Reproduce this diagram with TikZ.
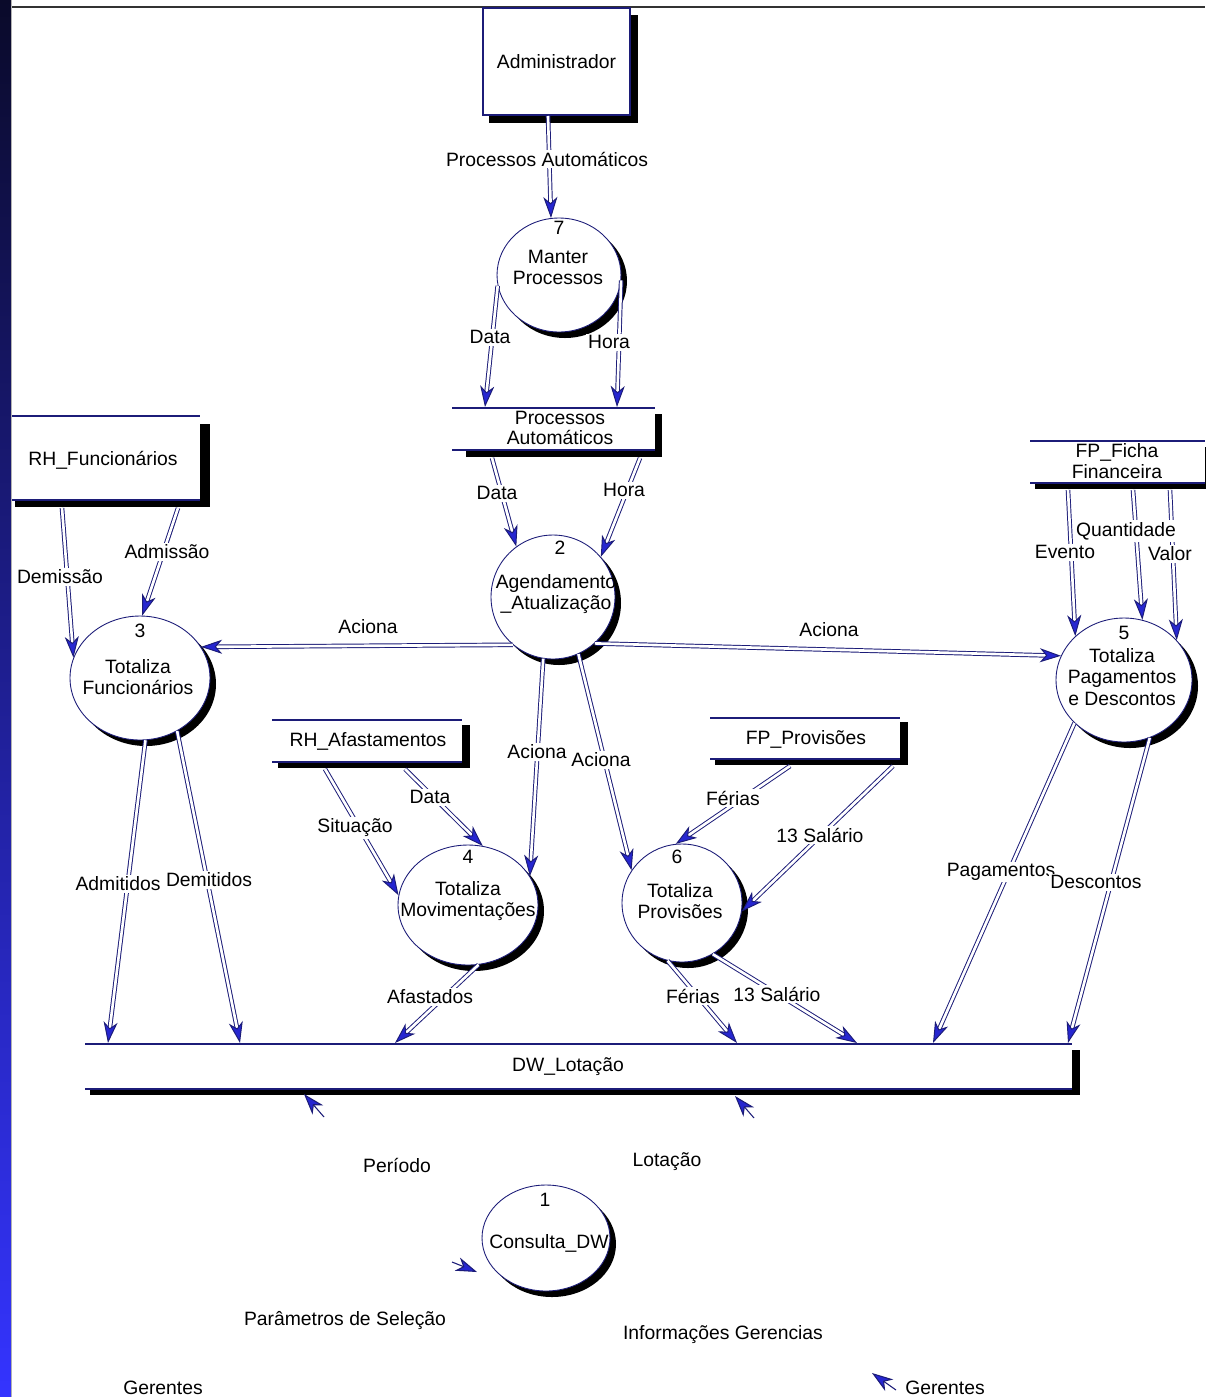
\documentclass[tikz,border=0pt]{standalone}
\usepackage{fontspec}
\setmainfont{Liberation Sans}
\usetikzlibrary{arrows.meta,calc,shapes.geometric}
\definecolor{navy}{HTML}{1C1C78}
\definecolor{arrblue}{HTML}{2626D0}
\definecolor{bartop}{HTML}{0A0A2A}
\definecolor{barbot}{HTML}{3434FF}
\begin{document}
\begin{tikzpicture}[x=0.02cm,y=-0.02cm,
  every node/.style={font=\fontsize{11}{12}\selectfont},
  lbl/.style={fill=white,inner sep=1pt},
  txt/.style={inner sep=0pt,align=center},
  flow/.style={draw=navy,line width=0.55pt,double=white,double distance=1.5pt,
    -{Stealth[length=12pt,width=8pt,inset=3.5pt,fill=arrblue,color=navy]}},
  tiponly/.style={draw=navy,line width=0.6pt,
    -{Stealth[length=12pt,width=8pt,inset=3.5pt,fill=arrblue,color=navy]}},
  proc/.style={ellipse,draw=navy,fill=white,line width=0.5pt,inner sep=0pt},
  shadowfill/.style={fill=black},
  storeline/.style={draw=navy,line width=0.7pt}
]
\useasboundingbox (0,0) rectangle (1205,1397);
\fill[white] (0,0) rectangle (1205,1397);
\shade[top color=bartop,bottom color=barbot] (0,0) rectangle (11,1397);
\draw[gray!60,line width=0.8pt] (11.5,0) -- (11.5,1397);
\draw[black!80,line width=1pt] (12,7) -- (1205,7);

% ---------- external entity ----------
\fill[shadowfill] (489,15) rectangle (638,123);
\node[draw=navy,fill=white,line width=0.7pt,minimum width=2.94cm,minimum height=2.14cm,inner sep=0pt] (adm) at (556.5,61.5) {Administrador};

% ---------- data stores ----------
% RH_Funcionarios
\fill[shadowfill] (15,424) rectangle (210,507);
\fill[white] (12,416) rectangle (200,500);
\draw[storeline] (12,416) -- (200,416);
\draw[storeline] (12,500) -- (200,500);
\node[txt] (rhf) at (103,460) {RH\_Funcionários};
% Processos Automaticos
\fill[shadowfill] (466,414) rectangle (662,457);
\fill[white] (452,408) rectangle (655,450);
\draw[storeline] (452,408) -- (655,408);
\draw[storeline] (452,450) -- (655,450);
\node[txt,font=\fontsize{11}{11.5}\selectfont] (pa) at (560,428) {Processos\\Automáticos};
% FP_Ficha Financeira
\fill[shadowfill] (1035,447) rectangle (1212,489);
\fill[white] (1030,441) rectangle (1205,483);
\draw[storeline] (1030,441) -- (1205,441);
\draw[storeline] (1030,483) -- (1205,483);
\node[txt,font=\fontsize{11}{11.5}\selectfont] (fpf) at (1117,461) {FP\_Ficha\\Financeira};
% RH_Afastamentos
\fill[shadowfill] (278,725) rectangle (470,768);
\fill[white] (272,720) rectangle (462,762);
\draw[storeline] (272,720) -- (462,720);
\draw[storeline] (272,762) -- (462,762);
\node[txt] (rha) at (368,741) {RH\_Afastamentos};
% FP_Provisoes
\fill[shadowfill] (715,722) rectangle (908,765);
\fill[white] (710,718) rectangle (900,759);
\draw[storeline] (710,718) -- (900,718);
\draw[storeline] (710,759) -- (900,759);
\node[txt] (fpp) at (806,739) {FP\_Provisões};
% DW_Lotacao
\fill[shadowfill] (90,1050) rectangle (1080,1095);
\fill[white] (85,1044) rectangle (1072,1089);
\draw[storeline] (85,1044) -- (1072,1044);
\draw[storeline] (85,1089) -- (1072,1089);
\node[txt] (dw) at (568,1067) {DW\_Lotação};

% ---------- processes ----------
\fill[shadowfill] (565,281) ellipse [x radius=62, y radius=57];
\node[proc,minimum width=2.48cm,minimum height=2.28cm] (c7) at (559,275) {};
\node[txt] (n7) at (559,228) {7};
\node[txt] (t7) at (558,267) {Manter\\Processos};

\fill[shadowfill] (559,603) ellipse [x radius=62, y radius=62];
\node[proc,minimum width=2.48cm,minimum height=2.48cm] (c2) at (553,597) {};
\node[txt] (n2) at (560,548) {2};
\node[txt] (t2) at (556,594) {Agendamento\\\_Atualização};

\fill[shadowfill] (146,684) ellipse [x radius=70, y radius=62];
\node[proc,minimum width=2.80cm,minimum height=2.48cm] (c3) at (140,678) {};
\node[txt] (n3) at (140,631) {3};
\node[txt] (t3) at (138,677) {Totaliza\\Funcionários};

\fill[shadowfill] (1130,686) ellipse [x radius=68, y radius=62];
\node[proc,minimum width=2.72cm,minimum height=2.48cm] (c5) at (1124,680) {};
\node[txt] (n5) at (1124,633) {5};
\node[txt] (t5) at (1122,677) {Totaliza\\Pagamentos\\e Descontos};

\fill[shadowfill] (474,911) ellipse [x radius=70, y radius=60];
\node[proc,minimum width=2.80cm,minimum height=2.40cm] (c4) at (468,905) {};
\node[txt] (n4) at (468,857) {4};
\node[txt] (t4) at (468,901) {Totaliza\\Movimentações};

\fill[shadowfill] (688,909) ellipse [x radius=60, y radius=59];
\node[proc,minimum width=2.40cm,minimum height=2.36cm] (c6) at (682,903) {};
\node[txt] (n6) at (677,857) {6};
\node[txt] (t6) at (680,901) {Totaliza\\Provisões};

\fill[shadowfill] (552,1244) ellipse [x radius=64, y radius=53];
\node[proc,minimum width=2.56cm,minimum height=2.12cm] (c1) at (546,1238) {};
\node[txt] (n1) at (545,1200) {1};
\begin{scope}
  \clip (546,1238) ellipse [x radius=63, y radius=52];
  \node[txt] (t1) at (549,1243) {Consulta\_DW};
\end{scope}

% ---------- connector end points on stores ----------
\coordinate (adm-o) at (548,116);
\coordinate (pa-d-in) at (485,407);
\coordinate (pa-h-in) at (617,407);
\coordinate (pa-d-out) at (492,458);
\coordinate (pa-h-out) at (640,458);
\coordinate (rhf-dem) at (62,508);
\coordinate (rhf-adm) at (178,508);
\coordinate (fpf-ev) at (1068,490);
\coordinate (fpf-qt) at (1133,490);
\coordinate (fpf-vl) at (1170,490);
\coordinate (rha-sit) at (325,769);
\coordinate (rha-dat) at (405,769);
\coordinate (fpp-fer) at (790,766);
\coordinate (fpp-13) at (893,766);
\coordinate (dw-adm) at (108,1043);
\coordinate (dw-dem) at (240,1043);
\coordinate (dw-afa) at (395,1043);
\coordinate (dw-fer) at (737,1043);
\coordinate (dw-13) at (857,1043);
\coordinate (dw-pag) at (933,1043);
\coordinate (dw-des) at (1068,1043);

% ---------- flows ----------
\draw[flow] (adm-o) -- (c7.98);
\draw[flow] (c7.190) -- (pa-d-in);
\draw[flow] (c7.-5) -- (pa-h-in);
\draw[flow] (pa-d-out) -- (c2.126);
\draw[flow] (pa-h-out) -- (c2.40);
\draw[flow] (rhf-adm) -- (c3.88);
\draw[flow] (rhf-dem) -- (c3.163);
\draw[flow] (c2.230) -- (c3.27);
\draw[flow] (c2.-48) -- (c5.159);
\draw[flow] (fpf-ev) -- (c5.138);
\draw[flow] (fpf-qt) -- (c5.73);
\draw[flow] (fpf-vl) -- (c5.37);
\draw[flow] (c2.-99) -- (c4.25);
\draw[flow] (c2.-66) -- (c6.147);
\draw[flow] (rha-dat) -- (c4.76);
\draw[flow] (rha-sit) -- (c4.172);
\draw[flow] (fpp-fer) -- (c6.96);
\draw[flow] (fpp-13) -- (c6.-8);
\draw[flow] (c3.-85) -- (dw-adm);
\draw[flow] (c3.-55) -- (dw-dem);
\draw[flow] (c4.-80) -- (dw-afa);
\draw[flow] (c6.-104) -- (dw-fer);
\draw[flow] (c6.-59) -- (dw-13);
\draw[flow] (c5.-139) -- (dw-pag);
\draw[flow] (c5.-66) -- (dw-des);

% orphan arrow tips (flows of the lower part)
\coordinate (o1a) at (324,1117); \coordinate (o1b) at (304,1094);
\coordinate (o2a) at (754,1118); \coordinate (o2b) at (735,1096);
\coordinate (o3a) at (452,1262); \coordinate (o3b) at (477,1272);
\coordinate (o4a) at (896,1390); \coordinate (o4b) at (872,1373);
\draw[tiponly] (o1a) -- (o1b);
\draw[tiponly] (o2a) -- (o2b);
\draw[tiponly] (o3a) -- (o3b);
\draw[tiponly] (o4a) -- (o4b);

% ---------- flow labels ----------
\node[lbl] (l1) at (547,159) {Processos Automáticos};
\node[lbl] (l2) at (490,337) {Data};
\node[lbl] (l3) at (609,342) {Hora};
\node[lbl] (l4) at (497,493) {Data};
\node[lbl] (l5) at (624,490) {Hora};
\node[lbl] (l6) at (167,552) {Admissão};
\node[lbl] (l7) at (60,577) {Demissão};
\node[lbl] (l8) at (368,627) {Aciona};
\node[lbl] (l9) at (829,630) {Aciona};
\node[lbl] (l11) at (1126,531) {Quantidade};
\node[lbl] (l10) at (1170,554) {Valor};
\node[lbl] (l12) at (1065,552) {Evento};
\node[lbl] (l13) at (537,752) {Aciona};
\node[lbl] (l14) at (601,760) {Aciona};
\node[lbl] (l15) at (430,797) {Data};
\node[lbl] (l16) at (355,828) {Situação};
\node[lbl] (l17) at (733,798) {Férias};
\node[lbl] (l18) at (820,835) {13 Salário};
\node[lbl] (l19) at (118,884) {Admitidos};
\node[lbl] (l20) at (209,880) {Demitidos};
\node[lbl] (l21) at (430,997) {Afastados};
\node[lbl] (l22) at (693,996) {Férias};
\node[lbl] (l23) at (777,994) {13 Salário};
\node[lbl] (l24) at (1001,872) {Pagamentos};
\node[lbl] (l25) at (1096,882) {Descontos};
\node[lbl] (l26) at (397,1165) {Período};
\node[lbl] (l27) at (667,1162) {Lotação};
\node[lbl] (l28) at (345,1320) {Parâmetros de Seleção};
\node[lbl] (l29) at (723,1335) {Informações Gerencias};
\node[lbl] (l30) at (163,1388) {Gerentes};
\node[lbl] (l31) at (945,1388) {Gerentes};
\end{tikzpicture}
\end{document}
